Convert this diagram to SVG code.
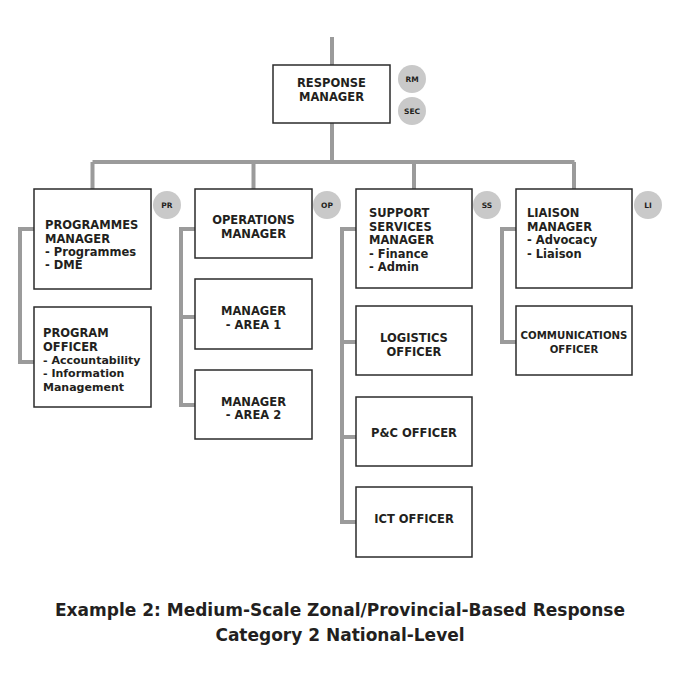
<svg xmlns="http://www.w3.org/2000/svg" width="680" height="680" viewBox="0 0 680 680">
<style>
.box{fill:#fff;stroke:#2b2b2b;stroke-width:1.5}
.ln{fill:none;stroke:#9b9b9b;stroke-width:4}
.t{font-family:"DejaVu Sans",sans-serif;font-weight:700;font-size:11.5px;fill:#231f20}
.c{text-anchor:middle}
.sm{font-size:10.2px}
.nr{font-size:11px}
.bd{fill:#c9c9c9}
.bt{font-family:"DejaVu Sans",sans-serif;font-weight:700;font-size:7.5px;fill:#231f20;text-anchor:middle}
.cap{font-family:"DejaVu Sans",sans-serif;font-weight:700;font-size:17px;fill:#231f20;text-anchor:middle}
</style>
<rect width="680" height="680" fill="#fff"/>
<g id="connectors">
<path class="ln" d="M332 37V65M332 123V162M92.5 162H574.5M92.5 162V189M253.5 162V189M414 162V189M574 162V189"/>
<path class="ln" d="M34 229H20V362H34"/>
<path class="ln" d="M195 229H181V405H195M181 317H195"/>
<path class="ln" d="M356 229H342V522H356M342 342H356M342 437H356"/>
<path class="ln" d="M516 229H502V342H516"/>
</g>
<g id="rm"><rect class="box" x="273" y="65" width="117" height="58"/><text class="t c" x="331.5" y="87">RESPONSE</text><text class="t c" x="331.5" y="101">MANAGER</text></g>
<g id="badge-rm"><circle class="bd" cx="412" cy="79" r="14"/><text class="bt" x="412" y="82">RM</text></g>
<g id="badge-sec"><circle class="bd" cx="412" cy="111" r="14"/><text class="bt" x="412" y="114">SEC</text></g>
<g id="pm"><rect class="box" x="34" y="189" width="117" height="100"/><text class="t" x="45" y="229">PROGRAMMES</text><text class="t" x="45" y="243">MANAGER</text><text class="t" x="45" y="256">- Programmes</text><text class="t" x="45" y="269">- DME</text></g>
<g id="badge-pr"><circle class="bd" cx="167" cy="205" r="14"/><text class="bt" x="167" y="208">PR</text></g>
<g id="po"><rect class="box" x="34" y="307" width="117" height="100"/><text class="t" x="43" y="337">PROGRAM</text><text class="t" x="43" y="351">OFFICER</text><text class="t nr" x="43" y="364">- Accountability</text><text class="t nr" x="43" y="377">- Information</text><text class="t nr" x="43" y="391">Management</text></g>
<g id="om"><rect class="box" x="195" y="189" width="117" height="69"/><text class="t c" x="253.5" y="224">OPERATIONS</text><text class="t c" x="253.5" y="238">MANAGER</text></g>
<g id="badge-op"><circle class="bd" cx="327" cy="205" r="14"/><text class="bt" x="327" y="208">OP</text></g>
<g id="a1"><rect class="box" x="195" y="279" width="117" height="70"/><text class="t c" x="253.5" y="315">MANAGER</text><text class="t c" x="253.5" y="329">- AREA 1</text></g>
<g id="a2"><rect class="box" x="195" y="370" width="117" height="69"/><text class="t c" x="253.5" y="406">MANAGER</text><text class="t c" x="253.5" y="419">- AREA 2</text></g>
<g id="ss"><rect class="box" x="356" y="189" width="116" height="99"/><text class="t" x="369" y="217">SUPPORT</text><text class="t" x="369" y="231">SERVICES</text><text class="t" x="369" y="244">MANAGER</text><text class="t" x="369" y="258">- Finance</text><text class="t" x="369" y="271">- Admin</text></g>
<g id="badge-ss"><circle class="bd" cx="487" cy="205" r="14"/><text class="bt" x="487" y="208">SS</text></g>
<g id="lo"><rect class="box" x="356" y="306" width="116" height="69"/><text class="t c" x="414" y="342">LOGISTICS</text><text class="t c" x="414" y="356">OFFICER</text></g>
<g id="pc"><rect class="box" x="356" y="397" width="116" height="69"/><text class="t c" x="414" y="437">P&amp;C OFFICER</text></g>
<g id="ict"><rect class="box" x="356" y="487" width="116" height="70"/><text class="t c" x="414" y="523">ICT OFFICER</text></g>
<g id="lm"><rect class="box" x="516" y="189" width="116" height="99"/><text class="t" x="527" y="217">LIAISON</text><text class="t" x="527" y="231">MANAGER</text><text class="t" x="527" y="244">- Advocacy</text><text class="t" x="527" y="258">- Liaison</text></g>
<g id="badge-li"><circle class="bd" cx="648" cy="205" r="14"/><text class="bt" x="648" y="208">LI</text></g>
<g id="co"><rect class="box" x="516" y="306" width="116" height="69"/><text class="t c sm" x="574" y="339">COMMUNICATIONS</text><text class="t c sm" x="574" y="353">OFFICER</text></g>
<g id="caption"><text class="cap" x="340" y="616">Example 2: Medium-Scale Zonal/Provincial-Based Response</text><text class="cap" x="340" y="641">Category 2 National-Level</text></g>
</svg>
